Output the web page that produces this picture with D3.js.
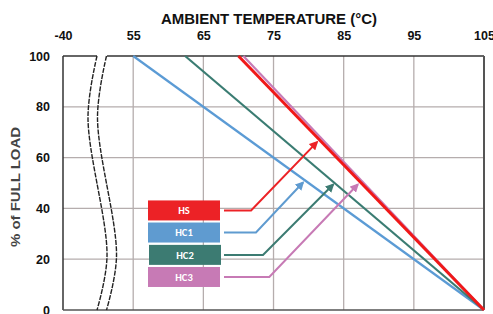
<!DOCTYPE html>
<html>
<head>
<meta charset="utf-8">
<script src="https://cdn.jsdelivr.net/npm/d3@7"></script>
<style>
  body { margin: 0; background: #fff; }
  svg { display: block; font-family: "Liberation Sans", Arial, sans-serif; }
</style>
</head>
<body>
<svg id="chart"></svg>
<script>
// axis values (the -40 tick sits before the axis break)
const tempTicks = [-40, 55, 65, 75, 85, 95, 105];
const loadTicks = [0, 20, 40, 60, 80, 100];

// derating lines: full load up to start temp, zero load at 105
const seriesNames = ['HC1', 'HC2', 'HC3', 'HS'];
const seriesStart = [55, 62.4, 70.7, 70];
const seriesEnd = [105, 105, 105, 105];
const seriesColors = ['#5b9bd5', '#3a7c72', '#c77bb7', '#f01818'];

// legend boxes (top to bottom) and their callout arrows [temp, load]
const legendNames = ['HS', 'HC1', 'HC2', 'HC3'];
const legendColors = ['#ec2226', '#5f9bd0', '#3c7b72', '#c77ab5'];
const legendLoad = [39.2, 30.5, 21.7, 13.0];
const arrowElbow = [71.8, 72.5, 73.5, 74.4];
const arrowTip = [[81.2, 66.1], [79.2, 50.2], [83.5, 49.4], [87.0, 49.4]];

const W = 493, H = 314;
const svg = d3.select('#chart').attr('width', W).attr('height', H);

// piecewise scale = broken axis between -40 and 55
const x = d3.scaleLinear().domain([-40, 55, 105]).range([63, 133.2, 484]);
const y = d3.scaleLinear().domain([0, 100]).range([310, 56]);

const gridColor = '#b5adad';

// grid
svg.append('g').selectAll('line.v')
  .data(tempTicks.slice(1, -1))
  .join('line')
  .attr('x1', d => x(d)).attr('x2', d => x(d))
  .attr('y1', y(100)).attr('y2', y(0))
  .attr('stroke', gridColor).attr('stroke-width', 1.3);
svg.append('g').selectAll('line.h')
  .data(loadTicks.slice(1, -1))
  .join('line')
  .attr('x1', x(-40)).attr('x2', x(105))
  .attr('y1', d => y(d)).attr('y2', d => y(d))
  .attr('stroke', gridColor).attr('stroke-width', 1.3);

// frame
const breakL = 97, breakR = 107;
const frame = svg.append('g').attr('stroke', '#333').attr('stroke-width', 1.5);
frame.append('line').attr('x1', x(-40)).attr('x2', breakL).attr('y1', y(100)).attr('y2', y(100));
frame.append('line').attr('x1', breakR).attr('x2', x(105)).attr('y1', y(100)).attr('y2', y(100));
frame.append('line').attr('x1', x(-40)).attr('x2', x(-40)).attr('y1', y(100)).attr('y2', y(0));
frame.append('line').attr('x1', x(105)).attr('x2', x(105)).attr('y1', y(100)).attr('y2', y(0)).attr('stroke', '#555').attr('stroke-width', 2);
frame.append('line').attr('x1', x(-40)).attr('x2', x(105)).attr('y1', y(0)).attr('y2', y(0)).attr('stroke', '#555');

// axis break squiggles
const wave = [[0, 100], [-9, 76], [10, 21], [0, 0]];
const waveLine = d3.line().x(d => d[0]).y(d => y(d[1])).curve(d3.curveCatmullRom);
[breakL, breakR].forEach((bx, i) => {
  svg.append('path')
    .attr('d', waveLine(wave.map(p => [bx + p[0] - i * 0.5, p[1]])))
    .attr('fill', 'none')
    .attr('stroke', '#222')
    .attr('stroke-width', 1.4)
    .attr('stroke-dasharray', '5,1.2');
});

// axes
const xAxis = svg.append('g')
  .attr('transform', `translate(0,${y(100) - 3})`)
  .call(d3.axisTop(x).tickValues(tempTicks).tickSize(0).tickPadding(13).tickFormat(d => String(d)));
const yAxis = svg.append('g')
  .attr('transform', `translate(${x(-40)},0)`)
  .call(d3.axisLeft(y).tickValues(loadTicks).tickSize(0).tickPadding(13));
[xAxis, yAxis].forEach(a => {
  a.select('.domain').remove();
  a.selectAll('text')
    .attr('font-family', '"Liberation Sans", Arial, sans-serif')
    .attr('font-size', 12.5)
    .attr('font-weight', 'bold')
    .attr('fill', '#111');
});

// titles
svg.append('text')
  .attr('x', 269).attr('y', 24)
  .attr('text-anchor', 'middle')
  .attr('font-size', 14.5).attr('font-weight', 'bold').attr('fill', '#111')
  .attr('textLength', 216).attr('lengthAdjust', 'spacingAndGlyphs')
  .text('AMBIENT TEMPERATURE (°C)');
svg.append('text')
  .attr('transform', 'translate(20,187) rotate(-90)')
  .attr('text-anchor', 'middle')
  .attr('font-size', 13).attr('font-weight', 'bold').attr('fill', '#444')
  .attr('textLength', 120).attr('lengthAdjust', 'spacingAndGlyphs')
  .text('% of FULL LOAD');

// derating lines
const line = d3.line().x(d => x(d[0])).y(d => y(d[1]));
svg.append('g').selectAll('path')
  .data(seriesNames)
  .join('path')
  .attr('d', (d, i) => line([[seriesStart[i], 100], [seriesEnd[i], 0]]))
  .attr('fill', 'none')
  .attr('stroke', (d, i) => seriesColors[i])
  .attr('stroke-width', d => d === 'HS' ? 3 : 2.2);

// legend boxes
const boxW = 72, boxH = 20, boxX = 148;
const leg = svg.append('g').selectAll('g')
  .data(legendNames)
  .join('g')
  .attr('transform', (d, i) => `translate(${boxX + (d === 'HC2' ? 1 : 0)},${y(legendLoad[i]) - boxH / 2})`);
leg.append('rect')
  .attr('width', boxW).attr('height', boxH)
  .attr('fill', (d, i) => legendColors[i]);
leg.append('text')
  .attr('x', boxW / 2).attr('y', boxH / 2).attr('dy', '0.35em')
  .attr('text-anchor', 'middle')
  .attr('font-family', 'Calibri, Carlito, "Open Sans", sans-serif')
  .attr('font-size', 10.5).attr('font-weight', 'bold').attr('fill', '#fff')
  .text(d => d);

// callout arrows
const defs = svg.append('defs');
legendNames.forEach((d, i) => {
  defs.append('marker')
    .attr('id', 'arr' + i)
    .attr('viewBox', '0 0 10 10').attr('refX', 8).attr('refY', 5)
    .attr('markerWidth', 9).attr('markerHeight', 9)
    .attr('markerUnits', 'userSpaceOnUse')
    .attr('orient', 'auto')
    .append('path').attr('d', 'M0,0 L10,5 L0,10 Z')
    .attr('fill', legendColors[i]);
});
const arrowLine = d3.line();
svg.append('g').selectAll('path')
  .data(legendNames)
  .join('path')
  .attr('d', (d, i) => {
    const yy = y(legendLoad[i]);
    return arrowLine([[boxX + boxW + 4, yy], [x(arrowElbow[i]), yy], [x(arrowTip[i][0]), y(arrowTip[i][1])]]);
  })
  .attr('fill', 'none')
  .attr('stroke', (d, i) => legendColors[i])
  .attr('stroke-width', 2)
  .attr('marker-end', (d, i) => `url(#arr${i})`);
</script>
</body>
</html>
